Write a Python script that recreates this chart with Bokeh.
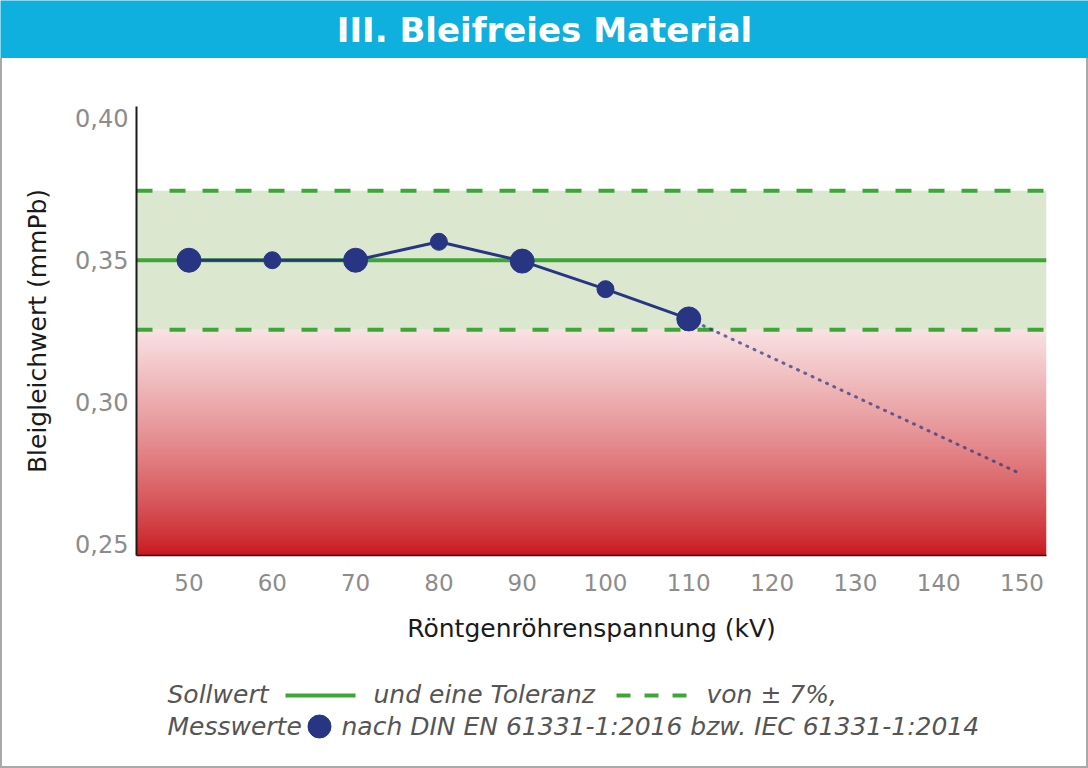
import numpy as np
from bokeh.plotting import figure
from bokeh.models import Range1d, FixedTicker, Span, BoxAnnotation, Div
from bokeh.layouts import column, row
from bokeh.embed import file_html
from bokeh.resources import INLINE
from bokeh.core.properties import value

# ---------------- data ----------------
title_text = "III. Bleifreies Material"
x_label = "Röntgenröhrenspannung (kV)"
y_label = "Bleigleichwert (mmPb)"

spannung_kv = [50, 60, 70, 80, 90, 100, 110]
bleigleichwert = [0.350, 0.350, 0.350, 0.3565, 0.3497, 0.3398, 0.3293]
trend_kv = [110, 150]
trend_wert = [0.3293, 0.2745]

sollwert = 0.35
toleranz = 0.07

x_ticks = [50, 60, 70, 80, 90, 100, 110, 120, 130, 140, 150]
y_ticks = [0.25, 0.30, 0.35, 0.40]
y_tick_labels = ["0,25", "0,30", "0,35", "0,40"]

legend_zeile1 = ["Sollwert", "und eine Toleranz", "von ± 7%,"]
legend_zeile2 = ["Messwerte", "nach DIN EN 61331-1:2016 bzw. IEC 61331-1:2014"]

# ---------------- styles ----------------
FONT = "DejaVu Sans"
NAVY = "#283583"
GREEN = "#3da637"
BAND = "#dbe8cf"
BLUE = "#0fb0dd"
BORDER = "#a9a9a9"

W = 1088
INNER_W = W - 4
HEAD_H = 58
MAIN_H = 597
LEG_H = 111
BL, BR = 134, 40          # borders left / right of the plot frame

# ---------------- header ----------------
header = figure(width=W, height=HEAD_H, x_range=Range1d(0, W), y_range=Range1d(HEAD_H, 0),
                x_axis_type=None, y_axis_type=None, toolbar_location=None,
                output_backend="svg", min_border=0,
                background_fill_color=BLUE, border_fill_color=BLUE, outline_line_color=None)
header.text(x=[W / 2], y=[29], text=[title_text], text_font=value(FONT),
            text_font_style="bold", text_font_size="34px", text_color="white",
            text_align="center", text_baseline="middle")

# ---------------- main chart ----------------
lo = sollwert * (1 - toleranz)
hi = sollwert * (1 + toleranz)

xr = Range1d(43.7, 152.94)
yr = Range1d(0.2459, 0.4042)

p = figure(width=INNER_W, height=MAIN_H, x_range=xr, y_range=yr,
           toolbar_location=None, output_backend="svg",
           min_border_left=BL, min_border_right=BR, min_border_top=48, min_border_bottom=100,
           background_fill_color="white", border_fill_color="white", outline_line_color=None)
p.grid.visible = False

# red gradient below tolerance
n = 256
f = np.linspace(0, 1, n) ** 0.8
top_c = np.array([249, 226, 227], dtype=float)
bot_c = np.array([200, 22, 28], dtype=float)
img = np.empty((n, 1), dtype=np.uint32)
view = img.view(dtype=np.uint8).reshape((n, 1, 4))
for i in range(n):
    c = bot_c + (top_c - bot_c) * f[i]
    view[i, 0, 0] = int(round(c[0]))
    view[i, 0, 1] = int(round(c[1]))
    view[i, 0, 2] = int(round(c[2]))
    view[i, 0, 3] = 255
p.image_rgba(image=[img], x=xr.start, y=yr.start, dw=xr.end - xr.start, dh=lo - yr.start,
             level="image")

p.add_layout(BoxAnnotation(bottom=lo, top=hi, fill_color=BAND, fill_alpha=1.0,
                           line_color=None, level="underlay"))
p.add_layout(Span(location=sollwert, dimension="width", line_color=GREEN,
                  line_width=4, level="underlay"))
for loc in (hi, lo):
    p.add_layout(Span(location=loc, dimension="width", line_color=GREEN,
                      line_width=4, line_dash="16 17", level="underlay"))

# trend (dotted)
p.line(trend_kv, trend_wert, line_color=NAVY, line_alpha=0.7, line_width=3,
       line_dash="1 7", line_cap="round")
# measured values
p.line(spannung_kv, bleigleichwert, line_color=NAVY, line_width=3)
sizes = [24 if i % 2 == 0 else 17 for i in range(len(spannung_kv))]
p.scatter(spannung_kv, bleigleichwert, size=sizes, fill_color=NAVY, line_color=NAVY)

# axes
p.xaxis.ticker = FixedTicker(ticks=x_ticks)
p.yaxis.ticker = FixedTicker(ticks=y_ticks)
p.yaxis.major_label_overrides = dict(zip(y_ticks, y_tick_labels))
for ax in (p.xaxis, p.yaxis):
    ax.major_tick_line_color = None
    ax.minor_tick_line_color = None
    ax.major_tick_out = 0
    ax.major_tick_in = 0
    ax.major_label_text_font = FONT
    ax.major_label_text_color = "#8c8c8c"
    ax.axis_label_text_font = FONT
    ax.axis_label_text_font_style = "normal"
    ax.axis_label_text_font_size = "25px"
    ax.axis_label_text_color = "#1a1a1a"
    ax.axis_line_color = "#1a1a1a"
p.xaxis.major_label_text_font_size = "23px"
p.yaxis.major_label_text_font_size = "24px"
p.xaxis.axis_line_width = 1.5
p.yaxis.axis_line_width = 2
p.xaxis.major_label_standoff = 18
p.yaxis.major_label_standoff = 8
p.xaxis.axis_label = x_label
p.yaxis.axis_label = y_label
p.xaxis.axis_label_standoff = 20
p.yaxis.axis_label_standoff = 20

# ---------------- legend (pixel coordinates of the page) ----------------
top_leg = HEAD_H + MAIN_H
lg = figure(width=INNER_W, height=LEG_H,
            x_range=Range1d(2 + BL, 2 + INNER_W - BR),
            y_range=Range1d(top_leg + LEG_H, top_leg),
            x_axis_type=None, y_axis_type=None, toolbar_location=None,
            output_backend="svg", min_border_left=BL, min_border_right=BR,
            min_border_top=0, min_border_bottom=0,
            background_fill_color="white", border_fill_color="white", outline_line_color=None)
txt = dict(text_font=value(FONT), text_font_style="italic", text_font_size="25px",
           text_color="#555555", text_align="left", text_baseline="middle")
lg.text(x=[167, 373, 706], y=[694, 694, 694], text=legend_zeile1, **txt)
lg.text(x=[167, 341], y=[726, 726], text=legend_zeile2, **txt)
lg.segment(x0=[285], y0=[695], x1=[355], y1=[695], line_color=GREEN, line_width=4)
lg.segment(x0=[616], y0=[695], x1=[687], y1=[695], line_color=GREEN, line_width=4,
           line_dash="14 14")
lg.scatter(x=[319], y=[726], size=23, fill_color=NAVY, line_color=NAVY)

# ---------------- frame / layout ----------------
inner_h = MAIN_H + LEG_H
left_b = Div(width=2, height=inner_h, margin=(0, 0, 0, 0), styles={"background-color": BORDER})
right_b = Div(width=2, height=inner_h, margin=(0, 0, 0, 0), styles={"background-color": BORDER})
bottom_b = Div(width=W, height=2, margin=(0, 0, 0, 0), styles={"background-color": BORDER})

layout = column(header, row(left_b, column(p, lg), right_b), bottom_b)

open("out.html", "w").write(file_html(layout, INLINE))
